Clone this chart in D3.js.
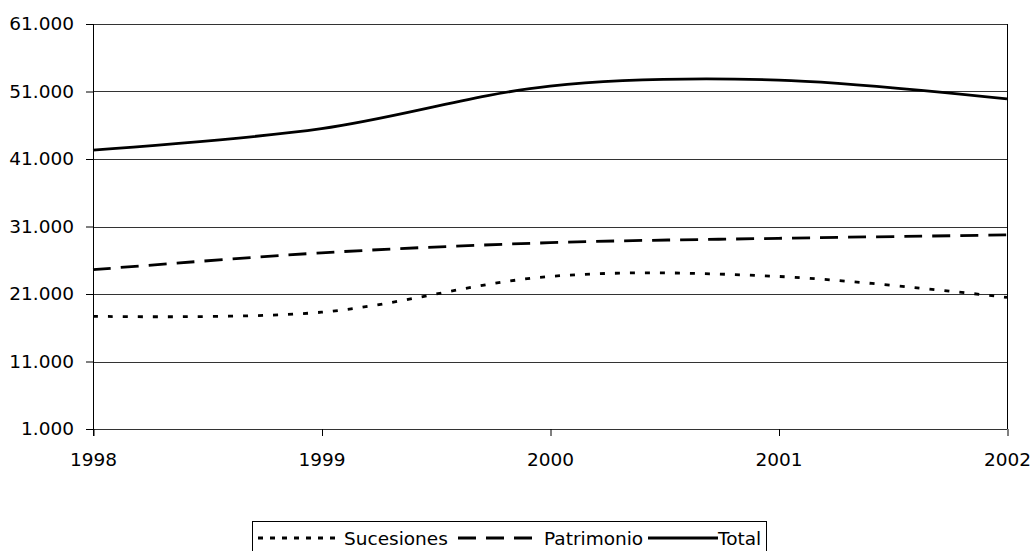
<!DOCTYPE html>
<html>
<head>
<meta charset="utf-8">
<script src="https://cdn.jsdelivr.net/npm/d3@7"></script>
<style>
  body { margin: 0; background: #fff; }
  text { font-family: "DejaVu Sans", Verdana, sans-serif; font-size: 18.5px; fill: #000; }
</style>
</head>
<body>
<div id="chart-area"></div>
<script>
var years = ["1998", "1999", "2000", "2001", "2002"];
var sucesiones = [17700, 18300, 23600, 23600, 20500];
var patrimonio = [24600, 27100, 28600, 29250, 29750];
var total = [42300, 45500, 51800, 52700, 49900];
var yTicks = [1000, 11000, 21000, 31000, 41000, 51000, 61000];
var seriesNames = ["Sucesiones", "Patrimonio", "Total"];

var W = 1032, H = 551;
var margin = { left: 93, right: 25, top: 24, bottom: 122 };
var width = W - margin.left - margin.right;
var height = H - margin.top - margin.bottom;

var svg = d3.select("#chart-area")
    .append("svg")
    .attr("width", W)
    .attr("height", H);

var g = svg.append("g")
    .attr("transform", "translate(" + margin.left + ", " + margin.top + ")");

var x = d3.scalePoint()
    .domain(years)
    .range([0, width]);

var y = d3.scaleLinear()
    .domain([1000, 61000])
    .range([height, 0]);

var fmt = d3.formatLocale({ decimal: ",", thousands: ".", grouping: [3], currency: ["", ""] }).format(",");

// gridlines
g.selectAll(".grid")
    .data(yTicks)
    .enter()
    .append("line")
    .attr("x1", 0)
    .attr("x2", width)
    .attr("y1", d => Math.round(y(d)) + 0.5)
    .attr("y2", d => Math.round(y(d)) + 0.5)
    .attr("stroke", "#333")
    .attr("stroke-width", 1);

// right border
g.append("line")
    .attr("x1", width + 0.5).attr("x2", width + 0.5)
    .attr("y1", 0).attr("y2", height)
    .attr("stroke", "#000");

var yAxis = d3.axisLeft(y).tickValues(yTicks).tickSize(7).tickPadding(12).tickFormat(fmt);
var xAxis = d3.axisBottom(x).tickSize(7).tickPadding(17);

var ya = g.append("g").attr("class", "y axis").call(yAxis);
ya.select(".domain").attr("d", "M0.5," + (height + 7) + "V0");
ya.selectAll("text").style("font-size", "18.5px").style("font-family", "DejaVu Sans");

var xa = g.append("g")
    .attr("class", "x axis")
    .attr("transform", "translate(0, " + height + ")")
    .call(xAxis);
xa.select(".domain").remove();
xa.selectAll(".tick line").attr("transform", "translate(0.5,0)");
xa.selectAll("text").style("font-size", "18.5px").style("font-family", "DejaVu Sans");

var dashes = ["5,10", "18,10", null];
var data = [sucesiones, patrimonio, total];

var line = d3.line()
    .x((d, i) => x(years[i]))
    .y(d => y(d))
    .curve(d3.curveCatmullRom.alpha(0));

g.selectAll(".series")
    .data(data)
    .enter()
    .append("path")
    .attr("d", d => line(d))
    .attr("fill", "none")
    .attr("stroke", "#000")
    .attr("stroke-width", 2.8)
    .attr("stroke-dasharray", (d, i) => dashes[i]);

// legend
var legend = svg.append("g");
legend.append("rect")
    .attr("x", 252.5).attr("y", 521.5)
    .attr("width", 514).attr("height", 40)
    .attr("fill", "#fff").attr("stroke", "#000");

var legendItems = [
    { sx1: 258, sx2: 342, tx: 344, dash: "5,7" },
    { sx1: 458, sx2: 533, tx: 544, dash: "18,10" },
    { sx1: 648, sx2: 718, tx: 718, dash: null }
];

legendItems.forEach((it, i) => {
    legend.append("line")
        .attr("x1", it.sx1).attr("x2", it.sx2)
        .attr("y1", 538).attr("y2", 538)
        .attr("stroke", "#000")
        .attr("stroke-width", 2.8)
        .attr("stroke-dasharray", it.dash);
    legend.append("text")
        .attr("x", it.tx)
        .attr("y", 545)
        .text(seriesNames[i]);
});
</script>
</body>
</html>
